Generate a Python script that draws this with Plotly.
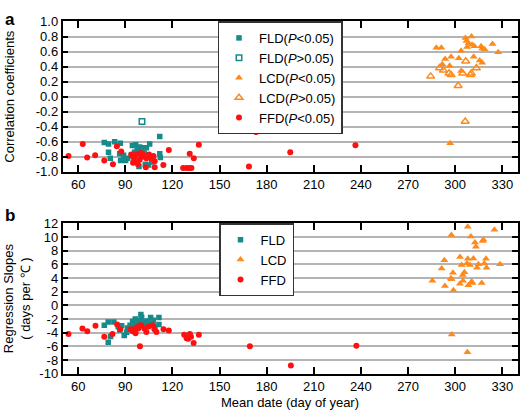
import plotly.graph_objects as go

# ---------------- Panel a: correlation coefficients ----------------
fld_sig_day_a = [76.6, 79.3, 83.2, 86.8, 79.3, 80.4, 86.4, 87.0, 88.9, 90.2, 91.5, 93.8, 94.5, 96.6,
                 98.0, 99.1, 100.2, 101.2, 103.4, 105.5, 98.7, 102.7, 104.8, 106.6, 111.9, 111.9,
                 112.3, 95.9, 99.1, 97.5, 100.8, 102.0, 107.6, 89.5]
fld_sig_r_a = [-0.61, -0.63, -0.60, -0.62, -0.74, -0.82, -0.76, -0.85, -0.78, -0.85, -0.82, -0.78, -0.65, -0.64,
               -0.69, -0.67, -0.71, -0.68, -0.68, -0.63, -0.93, -0.90, -0.91, -0.87, -0.53, -0.76,
               -0.81, -0.74, -0.75, -0.72, -0.80, -0.75, -0.80, -0.84]
fld_ns_day_a = [100.6]
fld_ns_r_a = [-0.33]

lcd_sig_day_a = [306.6, 310.4, 307.2, 308.6, 310.8, 307.6, 312.3, 316.5, 317.2, 318.7, 323.8, 327.4,
                 288.0, 291.2, 303.8, 293.6, 297.4, 302.3, 311.8, 315.6, 317.2, 291.8, 296.5, 303.8, 296.8]
lcd_sig_r_a = [0.78, 0.80, 0.74, 0.71, 0.69, 0.66, 0.67, 0.67, 0.64, 0.63, 0.70, 0.59,
               0.65, 0.65, 0.61, 0.50, 0.53, 0.51, 0.53, 0.48, 0.45, 0.43, 0.41, 0.34, -0.62]
lcd_ns_day_a = [284.4, 290.0, 292.5, 296.1, 297.4, 301.9, 304.8, 306.7, 309.7, 310.3, 313.5, 306.4]
lcd_ns_r_a = [0.27, 0.38, 0.35, 0.31, 0.29, 0.145, 0.31, 0.47, 0.29, 0.31, 0.38, -0.33]

ffd_day_a = [53.8, 62.9, 65.7, 70.8, 76.6, 82.1, 84.6, 87.4, 93.8, 94.4, 94.9, 95.5, 95.9, 97.0, 98.0,
             99.1, 99.8, 100.2, 101.2, 103.0, 103.4, 105.1, 106.6, 107.9, 108.7, 108.7, 114.2, 117.7,
             126.8, 128.9, 130.6, 132.1, 131.0, 133.6, 136.8, 168.7, 173.2, 195.0, 236.5]
ffd_r_a = [-0.79, -0.63, -0.81, -0.78, -0.85, -0.90, -0.66, -0.73, -0.77, -0.79, -0.88, -0.82, -0.87, -0.77, -0.90,
           -0.84, -0.75, -0.80, -0.77, -0.94, -0.82, -0.77, -0.82, -0.79, -0.86, -0.94, -0.91, -0.71,
           -0.95, -0.95, -0.95, -0.95, -0.76, -0.82, -0.64, -0.93, -0.47, -0.74, -0.645]

# ---------------- Panel b: regression slopes ----------------
fld_day_b = [76.6, 79.1, 82.7, 85.5, 79.1, 80.6, 86.5, 89.3, 90.8, 91.4, 94.6, 95.7, 97.2, 98.2, 99.3,
             99.9, 100.4, 101.6, 102.4, 103.9, 106.1, 107.8, 108.8, 111.4, 111.4, 95.0, 93.0, 100.8,
             104.8, 98.6, 87.7, 96.3]
fld_slope_b = [-2.9, -2.44, -2.44, -3.14, -5.4, -4.56, -3.6, -4.4, -3.95, -3.3, -2.35, -3.0, -2.5, -3.1, -2.2,
               -1.36, -1.75, -2.5, -3.1, -2.3, -1.8, -2.2, -3.2, -1.8, -2.8, -3.4, -2.9, -2.9,
               -2.6, -2.6, -3.0, -2.0]

lcd_day_b = [308.0, 325.0, 297.6, 310.0, 318.0, 317.5, 312.6, 313.2, 293.1, 303.1, 308.0, 311.6, 319.6,
             304.1, 307.5, 309.4, 314.8, 318.6, 320.0, 313.9, 328.5, 291.4, 298.6, 305.9, 304.8, 297.3,
             297.6, 285.5, 305.0, 310.5, 311.0, 303.0, 316.9, 308.4, 293.5, 298.9, 297.8, 307.8]
lcd_slope_b = [11.5, 11.05, 10.3, 10.07, 9.6, 9.4, 9.2, 8.56, 6.6, 7.07, 6.8, 6.83, 6.8,
               5.9, 6.1, 5.9, 6.0, 6.1, 5.5, 5.5, 6.0, 5.4, 4.75, 4.85, 4.43, 3.96,
               3.8, 3.58, 3.58, 3.48, 3.25, 3.16, 3.25, 2.92, 2.83, 2.2, -4.27, -6.86]

ffd_day_b = [53.8, 62.7, 65.8, 71.0, 76.6, 81.8, 84.8, 86.7, 93.3, 94.6, 95.5, 96.2, 98.2, 99.1, 99.3,
             99.9, 102.1, 103.4, 104.9, 107.7, 108.5, 109.8, 114.3, 117.7, 127.5, 129.0, 130.0, 131.1,
             131.8, 133.5, 136.8, 169.3, 195.4, 237.1, 95.0, 96.5, 97.5]
ffd_slope_b = [-4.2, -3.4, -3.8, -3.0, -4.6, -4.2, -2.8, -3.5, -3.5, -3.8, -3.5, -3.9, -3.4, -3.0, -6.0,
               -2.9, -3.4, -3.9, -3.1, -2.9, -3.5, -3.9, -3.5, -3.7, -4.3, -4.8, -4.9, -4.2,
               -4.6, -5.5, -4.3, -6.0, -8.8, -5.9, -3.7, -4.1, -3.2]

x_ticks = [60, 90, 120, 150, 180, 210, 240, 270, 300, 330]
ya_ticks = [-1.0, -0.8, -0.6, -0.4, -0.2, 0.0, 0.2, 0.4, 0.6, 0.8, 1.0]
yb_ticks = [-10, -8, -6, -4, -2, 0, 2, 4, 6, 8, 10, 12]

TEAL = "#178a8a"
ORANGE = "#ff8a1a"
RED = "#ff1010"
FONT = "Liberation Sans, Arial, sans-serif"

fig = go.Figure()

# panel a
fig.add_trace(go.Scatter(x=fld_sig_day_a, y=fld_sig_r_a, mode="markers", name="FLD(<i>P</i>&lt;0.05)",
                         marker=dict(symbol="square", size=5.5, color=TEAL), xaxis="x", yaxis="y", legend="legend"))
fig.add_trace(go.Scatter(x=fld_ns_day_a, y=fld_ns_r_a, mode="markers", name="FLD(<i>P</i>&gt;0.05)",
                         marker=dict(symbol="square-open", size=5.5, color=TEAL, line=dict(width=1.5)),
                         xaxis="x", yaxis="y", legend="legend"))
fig.add_trace(go.Scatter(x=lcd_sig_day_a, y=lcd_sig_r_a, mode="markers", name="LCD(<i>P</i>&lt;0.05)",
                         marker=dict(symbol="triangle-up", size=7, color=ORANGE), xaxis="x", yaxis="y", legend="legend"))
fig.add_trace(go.Scatter(x=lcd_ns_day_a, y=lcd_ns_r_a, mode="markers", name="LCD(<i>P</i>&gt;0.05)",
                         marker=dict(symbol="triangle-up-open", size=7, color=ORANGE, line=dict(width=1.5)),
                         xaxis="x", yaxis="y", legend="legend"))
fig.add_trace(go.Scatter(x=ffd_day_a, y=ffd_r_a, mode="markers", name="FFD(<i>P</i>&lt;0.05)",
                         marker=dict(symbol="circle", size=6, color=RED), xaxis="x", yaxis="y", legend="legend"))

# panel b
fig.add_trace(go.Scatter(x=fld_day_b, y=fld_slope_b, mode="markers", name="FLD",
                         marker=dict(symbol="square", size=5.5, color=TEAL), xaxis="x2", yaxis="y2", legend="legend2"))
fig.add_trace(go.Scatter(x=lcd_day_b, y=lcd_slope_b, mode="markers", name="LCD",
                         marker=dict(symbol="triangle-up", size=7, color=ORANGE), xaxis="x2", yaxis="y2", legend="legend2"))
fig.add_trace(go.Scatter(x=ffd_day_b, y=ffd_slope_b, mode="markers", name="FFD",
                         marker=dict(symbol="circle", size=6, color=RED), xaxis="x2", yaxis="y2", legend="legend2"))

W, H = 520, 419
xdom = [62.5 / W, 518 / W]
ya_dom = [1 - 171 / H, 1 - 15 / H]
yb_dom = [1 - 380.3 / H, 1 - 224.3 / H]

common_x = dict(range=[50, 340], tickvals=x_ticks, ticktext=[str(t) for t in x_ticks],
                showline=True, linecolor="black", linewidth=1.5, mirror="ticks",
                ticks="inside", ticklen=7, tickwidth=1.5, tickcolor="black",
                showgrid=False, zeroline=False, domain=xdom,
                tickfont=dict(family=FONT, size=13, color="black"))
common_y = dict(showline=True, linecolor="black", linewidth=1.5, mirror="ticks",
                ticks="inside", ticklen=6, tickwidth=1.5, tickcolor="black",
                showgrid=True, gridcolor="#b4b4b4", gridwidth=1.5, zeroline=False,
                tickfont=dict(family=FONT, size=13, color="black"))

legend_common = dict(bgcolor="white", bordercolor="#333333", borderwidth=1.5,
                     font=dict(family=FONT, size=13, color="black"),
                     xanchor="left", yanchor="top", tracegroupgap=0)

fig.update_layout(
    width=W, height=H, margin=dict(l=0, r=0, t=0, b=0),
    paper_bgcolor="white", plot_bgcolor="white",
    font=dict(family=FONT, size=13, color="black"),
    xaxis=dict(common_x, anchor="y"),
    yaxis=dict(common_y, range=[-1, 1], tickvals=ya_ticks, ticktext=[f"{v:.1f}" for v in ya_ticks],
               domain=ya_dom, anchor="x"),
    xaxis2=dict(common_x, anchor="y2"),
    yaxis2=dict(common_y, range=[-10, 12], tickvals=yb_ticks, ticktext=[str(v) for v in yb_ticks],
                domain=yb_dom, anchor="x2"),
    legend=dict(legend_common, x=217.5 / W, y=1 - 15 / H),
    legend2=dict(legend_common, x=219 / W, y=1 - 224.3 / H),
    showlegend=True,
    annotations=[
        dict(text="<b>a</b>", x=3 / W, y=1 - 1 / H, xref="paper", yref="paper", xanchor="left", yanchor="top",
             showarrow=False, font=dict(family=FONT, size=17, color="black")),
        dict(text="<b>b</b>", x=3 / W, y=1 - 204 / H, xref="paper", yref="paper", xanchor="left", yanchor="top",
             showarrow=False, font=dict(family=FONT, size=17, color="black")),
        dict(text="Correlation coefficients", x=10 / W, y=1 - 93 / H, xref="paper", yref="paper",
             xanchor="center", yanchor="middle", textangle=-90, showarrow=False,
             font=dict(family=FONT, size=13, color="black")),
        dict(text="Regression Slopes<br>( days per ℃ )", x=17 / W, y=1 - 302 / H, xref="paper", yref="paper",
             xanchor="center", yanchor="middle", textangle=-90, showarrow=False,
             font=dict(family=FONT, size=13, color="black")),
        dict(text="Mean date (day of year)", x=290 / W, y=1 - 410.5 / H, xref="paper", yref="paper",
             xanchor="center", yanchor="middle", showarrow=False,
             font=dict(family=FONT, size=13, color="black")),
    ],
)

fig.write_html("out.html", config={"displayModeBar": False},
               post_script="document.body.style.margin='0';document.body.style.overflow='hidden';")
